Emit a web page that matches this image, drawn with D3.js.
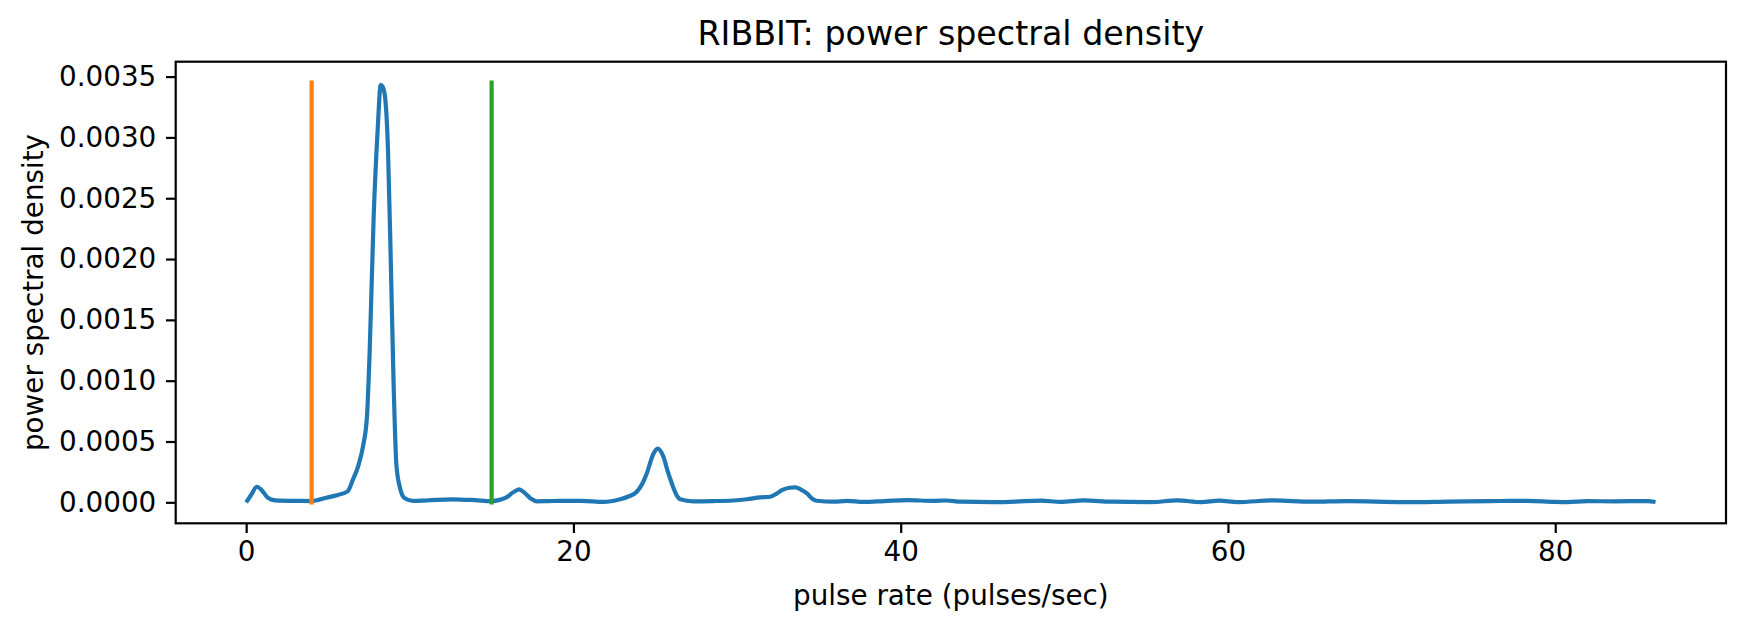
<!DOCTYPE html>
<html>
<head>
<meta charset="utf-8">
<script src="https://cdn.jsdelivr.net/npm/d3@7"></script>
<style>
  body { margin: 0; background: #fff; }
  text { font-family: "DejaVu Sans", sans-serif; fill: #000; }
</style>
</head>
<body>
<div id="chart"></div>
<script>
// pulse rate (pulses/sec) and power spectral density
const freqs = [0, 0.3, 0.65, 0.95, 1.3, 1.6, 2.0, 3.0, 4.0, 4.9, 5.6, 6.2, 6.52, 6.85,
  7.14, 7.38, 7.55, 7.79, 8.05, 8.22, 8.3, 8.46, 8.67, 8.87, 9.01, 9.18, 9.38, 9.69, 10.2,
  11.0, 12.6, 14.0, 15.0, 15.5, 15.9, 16.3, 16.68, 17.0, 17.4, 17.75, 18.5, 19.17, 20.5,
  21.82, 22.85, 23.4, 23.87, 24.2, 24.48, 24.89, 25.15, 25.5, 25.75, 26.01, 26.3, 26.52,
  27.33, 28.5, 29.78, 30.6, 31.41, 32.03, 32.4, 32.74, 33.2, 33.56, 33.9, 34.27, 34.6,
  34.88, 35.9, 36.72, 37.74, 39.0, 40.39, 42.0, 42.8, 43.65, 45.7, 47.0, 48.56, 49.78,
  51.2, 52.83, 55.28, 56.91, 58.35, 59.47, 60.59, 62.83, 65.08, 67.28, 70.75, 73.5, 76.05,
  78.3, 79.93, 80.74, 81.96, 83.6, 85.63, 86.13];
const psd = [0, 0.00006, 0.000128, 0.0001, 0.00004, 0.00002, 0.000014, 0.000012, 0.00001,
  0.000038, 0.00006, 0.00009, 0.000185, 0.0003, 0.00046, 0.0007, 0.00125,
  0.00234, 0.0031, 0.00343, 0.003425, 0.00336, 0.00289, 0.00179, 0.00098, 0.00031, 0.00013,
  0.000033, 0.000012, 0.000015, 0.000025, 0.000018, 0.00001, 0.00002, 0.00004, 0.00008,
  0.000106, 0.00008, 0.00003, 0.000008, 0.00001, 0.000012, 0.000012, 0.000003, 0.000025,
  0.00005, 0.000087, 0.00015, 0.000237, 0.0004, 0.000442, 0.000374, 0.00026, 0.000156,
  0.00006, 0.000025, 0.000008, 0.00001, 0.000015, 0.000025, 0.00004, 0.000046, 0.00007,
  0.0001, 0.00012, 0.000123, 0.000105, 0.000074, 0.00003, 0.000013, 0.000005, 0.000012,
  0.000003, 0.00001, 0.000018, 0.000012, 0.000015, 0.000005, 0.000001, 0.000006, 0.000014,
  0.000003, 0.000016, 0.000005, 0.000001, 0.000016, 0.000002, 0.000014, 0.000002, 0.000016,
  0.000005, 0.00001, 0.000002, 0.000006, 0.00001, 0.000012, 0.000004, 0.000002, 0.00001,
  0.000008, 0.00001, 0.000003];
// lower and upper pulse-rate limits
const limits = [4, 15];
const limitColors = ["#ff7f0e", "#2ca02c"];
const xTicks = [0, 20, 40, 60, 80];
const yTicks = [0, 0.0005, 0.001, 0.0015, 0.002, 0.0025, 0.003, 0.0035];

const width = 1746, height = 631;
const margin = {top: 61.7, right: 20, bottom: 107.7, left: 175.7};

const svg = d3.select("#chart").append("svg")
  .attr("width", width)
  .attr("height", height);

const data = freqs.map((f, i) => ({f: f, p: psd[i]}));
const pmax = 0.00345;

const x = d3.scaleLinear()
  .domain([-0.05 * 86.13, 86.13 * 1.05])
  .range([margin.left, width - margin.right]);

const y = d3.scaleLinear()
  .domain([-0.05 * pmax, pmax * 1.05])
  .range([height - margin.bottom, margin.top]);

const xAxis = g => g
  .attr("transform", `translate(0, ${height - margin.bottom})`)
  .call(d3.axisBottom(x).tickValues(xTicks).tickFormat(d3.format("d"))
    .tickSize(9.7).tickPadding(8.5));

const yAxis = g => g
  .attr("transform", `translate(${margin.left}, 0)`)
  .call(d3.axisLeft(y).tickValues(yTicks).tickFormat(d3.format(".4f"))
    .tickSize(9.7).tickPadding(9.7));

const line = d3.line()
  .x(d => x(d.f))
  .y(d => y(d.p))
  .curve(d3.curveMonotoneX);

svg.append("path") // the spectrum
  .datum(data)
  .attr("fill", "none")
  .attr("stroke", "#1f77b4")
  .attr("stroke-width", 4.2)
  .attr("stroke-linejoin", "round")
  .attr("d", line);

svg.selectAll(".limit") // vertical markers at the rate limits
  .data(limits)
  .join("line")
  .attr("class", "limit")
  .attr("x1", d => x(d)).attr("x2", d => x(d))
  .attr("y1", y(0)).attr("y2", y(pmax))
  .attr("stroke", (d, i) => limitColors[i])
  .attr("stroke-width", 4.2)
  .attr("stroke-linecap", "square");

svg.append("g").call(xAxis);
svg.append("g").call(yAxis);

svg.selectAll(".domain").remove();
svg.selectAll(".tick line").attr("stroke", "#000").attr("stroke-width", 2.2);
svg.selectAll(".tick text").attr("font-size", 27.8).attr("font-family", "DejaVu Sans").attr("fill", "#000");

svg.append("rect") // axes frame
  .attr("x", margin.left)
  .attr("y", margin.top)
  .attr("width", width - margin.right - margin.left)
  .attr("height", height - margin.bottom - margin.top)
  .attr("fill", "none")
  .attr("stroke", "#000")
  .attr("stroke-width", 2.2);

svg.append("text")
  .attr("x", (margin.left + width - margin.right) / 2)
  .attr("y", 45)
  .attr("text-anchor", "middle")
  .attr("font-size", 33.3)
  .text("RIBBIT: power spectral density");

svg.append("text")
  .attr("x", (margin.left + width - margin.right) / 2)
  .attr("y", 605)
  .attr("text-anchor", "middle")
  .attr("font-size", 27.8)
  .text("pulse rate (pulses/sec)");

svg.append("text")
  .attr("transform", `translate(43, ${(margin.top + height - margin.bottom) / 2}) rotate(-90)`)
  .attr("text-anchor", "middle")
  .attr("font-size", 27.8)
  .text("power spectral density");
</script>
</body>
</html>
